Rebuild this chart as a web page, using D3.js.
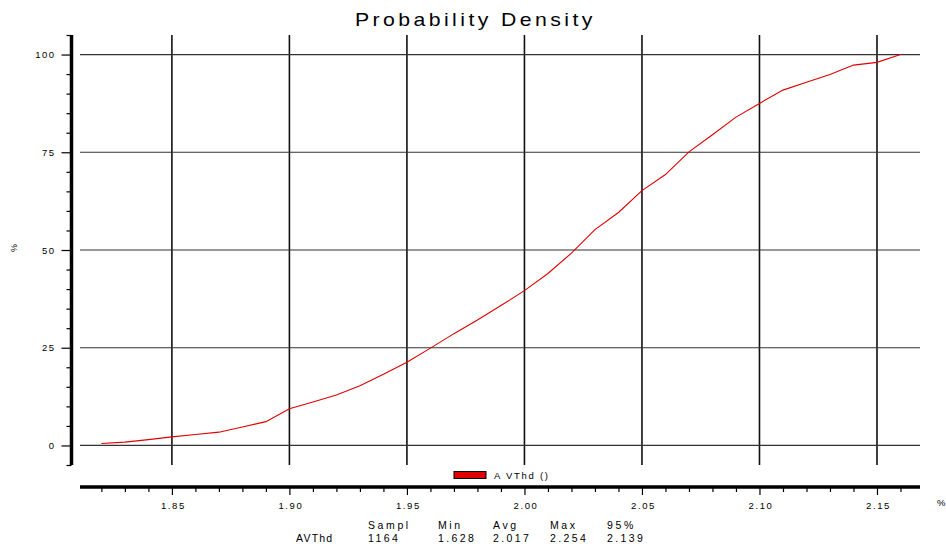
<!DOCTYPE html>
<meta charset="utf-8">
<style>
body { margin: 0; background: #fff; }
svg text { font-family: "Liberation Sans", Arial, sans-serif; fill: #000; }
.tick line { stroke: #000; stroke-width: 1.2; }
.grid-v { stroke: #111; stroke-width: 1.6; }
.grid-h { stroke: #333; stroke-width: 1.2; }
.series { fill: none; stroke: #e00000; stroke-width: 1.1; }
</style>
<svg id="chart" width="946" height="546"></svg>
<script src="https://cdn.jsdelivr.net/npm/d3@7"></script>
<script>

// cumulative distribution of AVThd
let xValues = [1.82, 1.83, 1.84, 1.85, 1.86, 1.87, 1.88, 1.89, 1.90, 1.91,
               1.92, 1.93, 1.94, 1.95, 1.96, 1.97, 1.98, 1.99, 2.00, 2.01,
               2.02, 2.03, 2.04, 2.05, 2.06, 2.07, 2.08, 2.09, 2.10, 2.11,
               2.12, 2.13, 2.14, 2.15, 2.16];
let cumPct = [0.5, 0.85, 1.5, 2.2, 2.8, 3.4, 4.7, 6.1, 9.4, 11.1,
              12.9, 15.3, 18.2, 21.3, 24.9, 28.6, 32.1, 35.8, 39.6, 44.0,
              49.2, 55.2, 59.6, 65.2, 69.3, 75.1, 79.5, 84.0, 87.5, 90.9,
              92.9, 94.9, 97.3, 98.0, 100];

let xMajorTicks = [1.85, 1.90, 1.95, 2.00, 2.05, 2.10, 2.15];
let yMajorTicks = [0, 25, 50, 75, 100];

let seriesName = "AVThd";
let legendLabel = "A VThd ()";
let statHeaders = ["Sampl", "Min", "Avg", "Max", "95%"];
let statValues = ["1164", "1.628", "2.017", "2.254", "2.139"];

// layout
let plotLeft = 80, plotRight = 920, plotTop = 35, plotBottom = 465;
let yAxisX = 71.5, xAxisY = 487;
let statCols = [368, 438, 493, 550, 607];

let svg = d3.select("#chart");

let x = d3.scaleLinear()
    .domain([1.8109, 2.1683])
    .range([plotLeft, plotRight]);

let y = d3.scaleLinear()
    .domain([-5, 105])
    .range([plotBottom, plotTop]);

// title (glyphs look horizontally stretched in the original)
svg.append("text")
    .attr("transform", "translate(355,26) scale(1.18,1)")
    .attr("font-size", 18)
    .attr("letter-spacing", "2.9px")
    .text("Probability Density");

// grid
svg.append("g").selectAll("line")
    .data(xMajorTicks)
  .enter().append("line")
    .attr("class", "grid-v")
    .attr("x1", d => x(d)).attr("x2", d => x(d))
    .attr("y1", plotTop).attr("y2", plotBottom);

svg.append("g").selectAll("line")
    .data(yMajorTicks)
  .enter().append("line")
    .attr("class", "grid-h")
    .attr("x1", plotLeft).attr("x2", plotRight)
    .attr("y1", d => y(d)).attr("y2", d => y(d));

// y axis
let yMinor = d3.range(-5, 106, 5).filter(v => !yMajorTicks.includes(v));

let yAxisG = svg.append("g").attr("transform", "translate(" + yAxisX + ",0)");
yAxisG.append("g")
    .call(d3.axisLeft(y).tickValues(yMinor).tickSize(5).tickSizeOuter(0).tickFormat(""))
    .call(g => g.select(".domain").remove());
yAxisG.append("g")
    .call(d3.axisLeft(y).tickValues(yMajorTicks).tickSize(10).tickSizeOuter(0)
      .tickPadding(6).tickFormat(d3.format("d")))
    .call(g => g.select(".domain").remove())
    .call(g => g.selectAll("text")
      .attr("font-size", 9.5).attr("letter-spacing", "1.5px").attr("font-family", null));
yAxisG.append("line")
    .attr("y1", plotTop).attr("y2", plotBottom)
    .attr("stroke", "#000").attr("stroke-width", 3.5);

svg.append("text")
    .attr("transform", "translate(17,248) rotate(-90)")
    .attr("text-anchor", "middle")
    .attr("font-size", 9)
    .text("%");

// x axis
let xMinor = d3.range(182, 217).map(v => v / 100)
    .filter(v => !xMajorTicks.some(m => Math.abs(m - v) < 1e-6));

let xAxisG = svg.append("g").attr("transform", "translate(0," + xAxisY + ")");
xAxisG.append("g")
    .call(d3.axisBottom(x).tickValues(xMinor).tickSize(5).tickSizeOuter(0).tickFormat(""))
    .call(g => g.select(".domain").remove());
xAxisG.append("g")
    .call(d3.axisBottom(x).tickValues(xMajorTicks).tickSize(8).tickSizeOuter(0)
      .tickPadding(7).tickFormat(d3.format(".2f")))
    .call(g => g.select(".domain").remove())
    .call(g => g.selectAll("text")
      .attr("font-size", 9.5).attr("letter-spacing", "1.6px").attr("dx", "1px")
      .attr("font-family", null));
xAxisG.append("line")
    .attr("x1", plotLeft).attr("x2", plotRight)
    .attr("stroke", "#000").attr("stroke-width", 3.5);

svg.append("text")
    .attr("x", 937)
    .attr("y", 506)
    .attr("font-size", 9.5)
    .text("%");

// series
let line = d3.line()
    .x((d, i) => x(xValues[i]))
    .y(d => y(d));

svg.append("path")
    .datum(cumPct)
    .attr("class", "series")
    .attr("d", line);

// legend
svg.append("rect")
    .attr("x", 454).attr("y", 471.5)
    .attr("width", 32).attr("height", 7)
    .attr("fill", "#e00000")
    .attr("stroke", "#000")
    .attr("stroke-width", 1);
svg.append("text")
    .attr("x", 494).attr("y", 478.5)
    .attr("font-size", 9.5)
    .attr("textLength", 54)
    .attr("lengthAdjust", "spacing")
    .text(legendLabel);

// statistics table
let stats = svg.append("g").attr("font-size", 10.5);
stats.selectAll(".hdr")
    .data(statHeaders)
  .enter().append("text")
    .attr("class", "hdr")
    .attr("x", (d, i) => statCols[i])
    .attr("y", 529)
    .attr("letter-spacing", "2.6px")
    .text(d => d);
stats.append("text")
    .attr("x", 296).attr("y", 542)
    .attr("letter-spacing", "1.2px")
    .text(seriesName);
stats.selectAll(".val")
    .data(statValues)
  .enter().append("text")
    .attr("class", "val")
    .attr("x", (d, i) => statCols[i])
    .attr("y", 542)
    .attr("letter-spacing", "2.4px")
    .text(d => d);

</script>
